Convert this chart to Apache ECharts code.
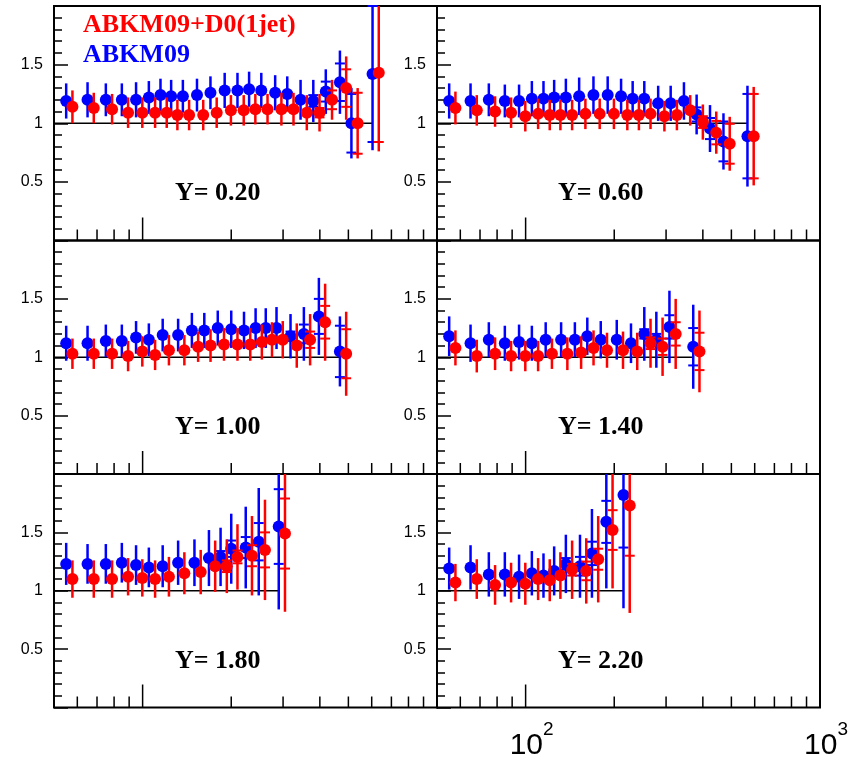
<!DOCTYPE html>
<html><head><meta charset="utf-8">
<script src="https://cdn.jsdelivr.net/npm/echarts@6/dist/echarts.min.js"></script>
<style>html,body{margin:0;padding:0;background:#fff}#c{width:865px;height:758px}</style>
</head><body><div id="c"></div>
<script>
// ---------------- data ----------------
const panelLabels = ['Y= 0.20', 'Y= 0.60', 'Y= 1.00', 'Y= 1.40', 'Y= 1.80', 'Y= 2.20'];
const legendNames = ['ABKM09+D0(1jet)', 'ABKM09'];
const yTickLabels = [0.5, 1, 1.5];
const xTickLabels = [100, 1000];
const xMinorTicks = [60, 70, 80, 90, 100, 200, 300, 400, 500, 600, 700, 800, 900];

// Y = 0.20
const pt020 = [55,65,75,85,95,105,115,125,137,153,170,190,210,230,253,282,310,344,380,419,468,512,604];
const blue020 = [1.19,1.20,1.20,1.20,1.20,1.22,1.24,1.23,1.23,1.24,1.26,1.28,1.28,1.29,1.28,1.26,1.25,1.20,1.19,1.27,1.35,1.00,1.42];
const blueErr020 = [0.15,0.15,0.14,0.14,0.15,0.14,0.14,0.14,0.14,0.14,0.14,0.15,0.15,0.15,0.15,0.15,0.15,0.17,0.18,0.19,0.27,0.30,0.65];
const blueIn020 = [0,0,0,0,0,0,0,0,0,0,0,0,0,0,0,0,0,0,0.05,0.085,0.16,0.25,0.58];
const red020 = [1.14,1.13,1.12,1.09,1.09,1.09,1.09,1.07,1.07,1.07,1.09,1.11,1.11,1.12,1.12,1.12,1.12,1.09,1.09,1.20,1.30,1.00,1.43];
const redErr020 = [0.14,0.13,0.13,0.13,0.13,0.13,0.13,0.13,0.13,0.13,0.13,0.13,0.13,0.13,0.13,0.14,0.14,0.15,0.16,0.17,0.27,0.30,0.67];
const redIn020 = [0,0,0,0,0,0,0,0,0,0,0,0,0,0,0,0,0,0,0.04,0.08,0.16,0.26,0.59];

// Y = 0.60
const pt060 = [55,65,75,85,95,105,115,125,137,152,170,190,211,231,253,282,311,345,381,423,470,567];
const blue060 = [1.19,1.19,1.20,1.19,1.19,1.21,1.21,1.22,1.22,1.23,1.24,1.24,1.23,1.21,1.21,1.17,1.17,1.19,1.075,0.955,0.845,0.89];
const blueErr060 = [0.15,0.15,0.14,0.14,0.14,0.15,0.15,0.15,0.16,0.16,0.16,0.16,0.15,0.15,0.15,0.15,0.15,0.16,0.17,0.20,0.24,0.43];
const blueIn060 = [0,0,0,0,0,0,0,0,0,0,0,0,0,0,0,0,0,0,0.06,0.09,0.17,0.36];
const red060 = [1.13,1.11,1.10,1.09,1.06,1.08,1.07,1.07,1.07,1.08,1.08,1.08,1.07,1.07,1.08,1.06,1.07,1.11,1.01,0.92,0.825,0.89];
const redErr060 = [0.14,0.13,0.13,0.13,0.13,0.13,0.13,0.13,0.13,0.13,0.13,0.13,0.13,0.13,0.13,0.13,0.13,0.13,0.15,0.18,0.23,0.42];
const redIn060 = [0,0,0,0,0,0,0,0,0,0,0,0,0,0,0,0,0,0,0.05,0.10,0.17,0.36];

// Y = 1.00
const pt100 = [55,65,75,85,95,105,117,132,147,162,180,200,221,242,262,285,318,353,397,468];
const blue100 = [1.12,1.12,1.14,1.14,1.17,1.15,1.19,1.19,1.23,1.23,1.25,1.24,1.23,1.25,1.25,1.25,1.18,1.20,1.35,1.05];
const blueErr100 = [0.15,0.15,0.14,0.14,0.14,0.14,0.14,0.14,0.15,0.15,0.15,0.16,0.16,0.17,0.17,0.18,0.19,0.23,0.33,0.30];
const blueIn100 = [0,0,0,0,0,0,0,0,0,0,0,0,0,0,0,0,0.04,0.08,0.15,0.22];
const red100 = [1.03,1.03,1.03,1.01,1.05,1.02,1.06,1.06,1.09,1.10,1.11,1.11,1.11,1.13,1.15,1.15,1.10,1.15,1.30,1.03];
const redErr100 = [0.13,0.13,0.13,0.13,0.13,0.13,0.13,0.13,0.13,0.14,0.14,0.14,0.14,0.15,0.15,0.16,0.19,0.22,0.33,0.36];
const redIn100 = [0,0,0,0,0,0,0,0,0,0,0,0,0,0,0,0,0,0.07,0.14,0.21];

// Y = 1.40
const pt140 = [55,65,75,85,95,105,117,132,147,162,180,204,228,253,278,308,371];
const blue140 = [1.18,1.12,1.15,1.12,1.13,1.12,1.15,1.15,1.15,1.18,1.15,1.15,1.12,1.20,1.15,1.26,1.09];
const blueErr140 = [0.17,0.16,0.15,0.15,0.15,0.15,0.15,0.15,0.15,0.16,0.16,0.17,0.17,0.23,0.24,0.31,0.36];
const blueIn140 = [0,0,0,0,0,0,0,0,0,0,0,0,0,0.04,0.05,0.10,0.16];
const red140 = [1.08,1.01,1.03,1.01,1.01,1.01,1.03,1.03,1.04,1.08,1.06,1.06,1.05,1.12,1.09,1.20,1.05];
const redErr140 = [0.15,0.14,0.14,0.13,0.13,0.13,0.13,0.14,0.14,0.15,0.15,0.16,0.16,0.21,0.25,0.30,0.35];
const redIn140 = [0,0,0,0,0,0,0,0,0,0,0,0,0,0.05,0.07,0.10,0.16];

// Y = 1.80
const pt180 = [55,65,75,85,95,105,117,132,150,168,184,200,224,248,290];
const blue180 = [1.23,1.23,1.23,1.24,1.22,1.20,1.21,1.24,1.24,1.28,1.29,1.36,1.37,1.42,1.55];
const blueErr180 = [0.18,0.17,0.17,0.17,0.17,0.17,0.18,0.19,0.20,0.24,0.25,0.30,0.35,0.46,0.71];
const blueIn180 = [0,0,0,0,0,0,0,0,0,0,0.05,0.07,0.09,0.16,0.32];
const red180 = [1.10,1.10,1.10,1.12,1.11,1.10,1.12,1.15,1.16,1.21,1.21,1.29,1.30,1.35,1.49];
const redErr180 = [0.16,0.16,0.16,0.16,0.16,0.16,0.17,0.18,0.19,0.22,0.23,0.28,0.34,0.43,0.67];
const redIn180 = [0,0,0,0,0,0,0,0,0,0,0.05,0.055,0.09,0.15,0.30];

// Y = 2.20
const pt220 = [55,65,75,85,95,105,115,125,137,153,168,188,215];
const blue220 = [1.19,1.20,1.14,1.14,1.12,1.15,1.13,1.17,1.23,1.21,1.32,1.59,1.82];
const blueErr220 = [0.18,0.19,0.19,0.19,0.19,0.19,0.19,0.21,0.25,0.27,0.38,0.57,0.97];
const blueIn220 = [0,0,0,0,0,0,0,0,0.05,0.08,0.10,0.18,0.45];
const red220 = [1.07,1.10,1.05,1.07,1.06,1.10,1.09,1.13,1.18,1.17,1.27,1.52,1.73];
const redErr220 = [0.16,0.17,0.17,0.17,0.18,0.18,0.18,0.20,0.25,0.28,0.37,0.50,0.92];
const redIn220 = [0,0,0,0,0,0,0,0,0.05,0.08,0.09,0.17,0.43];

// ---------------- chart ----------------
const panels = [
  [pt020, blue020, blueErr020, blueIn020, red020, redErr020, redIn020],
  [pt060, blue060, blueErr060, blueIn060, red060, redErr060, redIn060],
  [pt100, blue100, blueErr100, blueIn100, red100, redErr100, redIn100],
  [pt140, blue140, blueErr140, blueIn140, red140, redErr140, redIn140],
  [pt180, blue180, blueErr180, blueIn180, red180, redErr180, redIn180],
  [pt220, blue220, blueErr220, blueIn220, red220, redErr220, redIn220]
];
const X_MIN = 50, X_MAX = 1000, REF = 1;
const RED_SHIFT = 1.05;
const BLUE = '#0000ff', RED = '#ff0000';
const LEFTS = [54, 437], WIDTH = 383;
const TOPS = [6, 240.5, 474], HEIGHTS = [234.5, 233.5, 233.5];

function errRender(color) {
  return function (params, api) {
    const x = api.value(0), y = api.value(1), e = api.value(2), ei = api.value(3);
    const cs = params.coordSys;
    const clampY = v => Math.max(cs.y, Math.min(cs.y + cs.height, v));
    const pT = api.coord([x, y + e]), pB = api.coord([x, y - e]);
    const children = [{
      type: 'line',
      shape: { x1: pT[0], y1: clampY(pT[1]), x2: pT[0], y2: clampY(pB[1]) },
      style: { stroke: color, lineWidth: 2.5 }
    }];
    if (ei > 0) {
      [1, -1].forEach(s => {
        const q = api.coord([x, y + s * ei]);
        if (q[1] >= cs.y && q[1] <= cs.y + cs.height) {
          children.push({ type: 'line', shape: { x1: q[0] - 5, y1: q[1], x2: q[0] + 5, y2: q[1] },
            style: { stroke: color, lineWidth: 2 } });
        }
      });
    }
    return { type: 'group', children };
  };
}

function tickRender(params, api) {
  const v = api.value(0);
  const p = api.coord([v, 0]);
  const L = (Math.abs(v - 100) < 1e-6) ? 23 : 11;
  return { type: 'line', shape: { x1: p[0], y1: p[1], x2: p[0], y2: p[1] - L },
    style: { stroke: '#000', lineWidth: 1.5 } };
}

const grid = [], xAxis = [], yAxis = [], series = [];
panels.forEach((p, i) => {
  const col = i % 2, row = Math.floor(i / 2);
  grid.push({ left: LEFTS[col], top: TOPS[row], width: WIDTH, height: HEIGHTS[row],
    show: true, borderColor: '#000', borderWidth: 2, backgroundColor: 'transparent',
    containLabel: false, outerBoundsMode: 'none' });
  xAxis.push({
    type: 'log', logBase: 10, min: X_MIN, max: X_MAX, gridIndex: i,
    axisLine: { show: false }, axisTick: { show: false }, splitLine: { show: false },
    axisLabel: {
      show: i === 5, margin: 13, color: '#000',
      showMinLabel: false,
      formatter: v => {
        const hit = xTickLabels.find(t => Math.abs(t - v) / t < 1e-6);
        return hit ? '{a|10}{b|' + Math.round(Math.log10(hit)) + '}' : '';
      },
      rich: {
        a: { fontSize: 30, fontFamily: 'Liberation Sans', color: '#000', verticalAlign: 'bottom', lineHeight: 40, padding: [0, 0, 0, 12] },
        b: { fontSize: 19, fontFamily: 'Liberation Sans', color: '#000', verticalAlign: 'top', lineHeight: 19 }
      }
    }
  });
  yAxis.push({
    type: 'value', min: 0, max: 2, interval: 0.5, gridIndex: i,
    axisLine: { show: false }, splitLine: { show: false },
    axisTick: { show: true, inside: true, length: 14, lineStyle: { color: '#000', width: 1.5 } },
    minorTick: { show: true, splitNumber: 5, length: 8, lineStyle: { color: '#000', width: 1.5 } },
    axisLabel: {
      margin: 11, color: '#000', fontSize: 16, fontFamily: 'Liberation Sans',
      formatter: v => yTickLabels.some(t => Math.abs(t - v) < 1e-6) ? String(v) : ''
    }
  });
  const [xs, bv, be, bi, rv, re, ri] = p;
  series.push({ type: 'custom', xAxisIndex: i, yAxisIndex: i, silent: true, z: 1,
    data: xMinorTicks.map(v => [v]), renderItem: tickRender });
  series.push({ type: 'line', xAxisIndex: i, yAxisIndex: i, silent: true, z: 2, symbol: 'none',
    data: [[X_MIN, REF], [xs[xs.length - 1], REF]], lineStyle: { color: '#000', width: 1.5 } });
  series.push({ type: 'custom', xAxisIndex: i, yAxisIndex: i, silent: true, z: 3,
    encode: { x: 0, y: 1 },
    data: xs.map((x, k) => [x, bv[k], be[k], bi[k]]), renderItem: errRender(BLUE) });
  series.push({ type: 'scatter', xAxisIndex: i, yAxisIndex: i, silent: true, z: 4,
    symbol: 'circle', symbolSize: 12, itemStyle: { color: BLUE, opacity: 1 },
    data: xs.map((x, k) => [x, bv[k]]) });
  series.push({ type: 'custom', xAxisIndex: i, yAxisIndex: i, silent: true, z: 5,
    encode: { x: 0, y: 1 },
    data: xs.map((x, k) => [x * RED_SHIFT, rv[k], re[k], ri[k]]), renderItem: errRender(RED) });
  series.push({ type: 'scatter', xAxisIndex: i, yAxisIndex: i, silent: true, z: 6,
    symbol: 'circle', symbolSize: 12, itemStyle: { color: RED, opacity: 1 },
    data: xs.map((x, k) => [x * RED_SHIFT, rv[k]]) });
});

const chart = echarts.init(document.getElementById('c'), null, { renderer: 'canvas' });
chart.setOption({ animation: false, backgroundColor: '#fff', grid, xAxis, yAxis, series });

const graphic = [];
panelLabels.forEach((t, i) => {
  const pos = chart.convertToPixel({ gridIndex: i }, [180, 0.4]);
  graphic.push({ type: 'text', x: pos[0], y: pos[1], z: 10,
    style: { text: t, fill: '#000', font: 'bold 26px "Liberation Serif"', align: 'center', verticalAlign: 'middle' } });
});
graphic.push({ type: 'text', x: 83, y: 25, z: 10,
  style: { text: legendNames[0], fill: RED, font: 'bold 26px "Liberation Serif"', align: 'left', verticalAlign: 'middle' } });
graphic.push({ type: 'text', x: 83, y: 55, z: 10,
  style: { text: legendNames[1], fill: BLUE, font: 'bold 26px "Liberation Serif"', align: 'left', verticalAlign: 'middle' } });
chart.setOption({ graphic });
</script></body></html>
